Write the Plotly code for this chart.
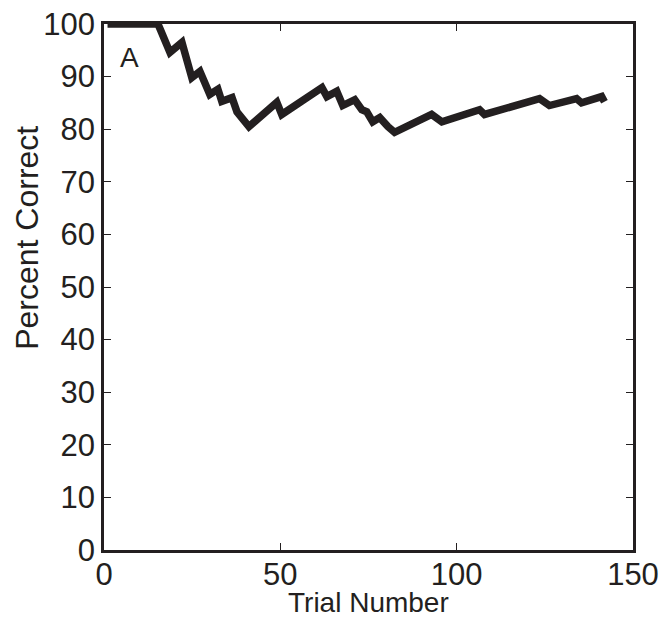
import plotly.graph_objects as go

# Vertices of the running percent-correct curve
trial = [1, 15.3, 16, 18.7, 22.1, 24.9, 27.2, 30.0, 32.3, 33.4, 36.3, 37.7, 41.1,
         49.0, 50.4, 61.8, 63.2, 66.0, 67.7, 71.1, 73.1, 74.5, 76.2, 78.2, 80.5,
         82.4, 92.9, 95.8, 106.5, 107.9, 123.5, 126.3, 134.0, 135.4, 141.1, 141.9]
percent = [100, 100, 98.9, 94.6, 96.5, 89.8, 91.0, 86.6, 87.6, 85.3, 86.0, 83.3, 80.5,
           85.1, 82.8, 87.9, 86.2, 87.2, 84.5, 85.6, 83.7, 83.3, 81.4, 82.2, 80.5,
           79.4, 82.8, 81.4, 83.7, 82.8, 85.8, 84.5, 85.8, 85.0, 86.2, 85.2]

x_ticks = [0, 50, 100, 150]
y_ticks = [0, 10, 20, 30, 40, 50, 60, 70, 80, 90, 100]

INK = "#231f20"
FONT = "Liberation Sans, Arial, sans-serif"

fig = go.Figure()
fig.add_trace(go.Scatter(x=trial, y=percent, mode="lines",
                         line=dict(color=INK, width=7.5), showlegend=False))

axis_common = dict(showgrid=False, zeroline=False, showline=True, linecolor=INK,
                   linewidth=2.5, mirror="ticks", ticks="inside", ticklen=7,
                   tickwidth=1.2, tickcolor=INK, automargin=False,
                   ticklabeloverflow="allow",
                   tickfont=dict(family=FONT, size=31, color=INK))

fig.update_layout(
    width=663, height=615,
    margin=dict(l=96, r=38, t=16, b=73, autoexpand=False),
    paper_bgcolor="white", plot_bgcolor="white",
    xaxis=dict(range=[0, 150], tickvals=x_ticks, ticktext=[str(v) for v in x_ticks],
               ticklabelstandoff=-5, **axis_common),
    yaxis=dict(range=[0, 100], tickvals=y_ticks, ticktext=[str(v) for v in y_ticks],
               **axis_common),
    annotations=[
        dict(text="Percent Correct", xref="paper", yref="paper", x=-0.146, y=0.593,
             xanchor="center", yanchor="middle", textangle=-90, showarrow=False,
             font=dict(family=FONT, size=32, color=INK)),
        dict(text="Trial Number", xref="paper", yref="paper", x=0.5, y=-0.099,
             xanchor="center", yanchor="middle", showarrow=False,
             font=dict(family=FONT, size=28, color=INK)),
        dict(text="A", xref="paper", yref="paper", x=0.049, y=0.937,
             xanchor="center", yanchor="middle", showarrow=False,
             font=dict(family=FONT, size=28, color=INK)),
    ],
)

fig.write_html("out.html")
